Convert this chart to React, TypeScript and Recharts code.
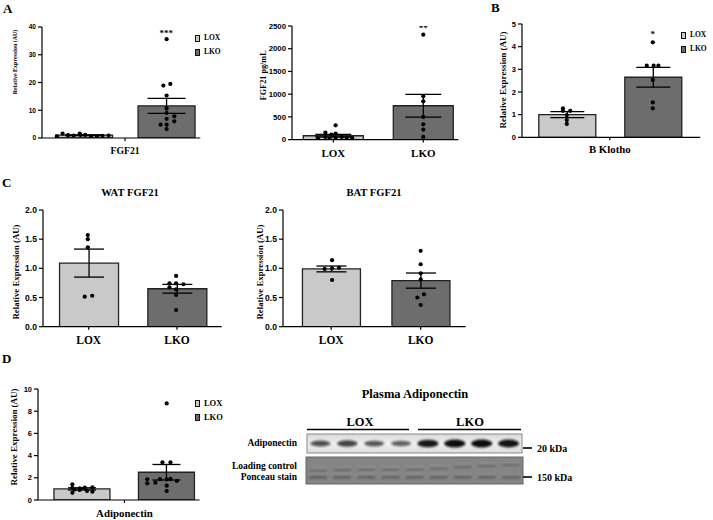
import React from 'react';
import { ComposedChart, Bar, Cell, ErrorBar, Scatter, XAxis, YAxis } from 'recharts';

const SERIF = '"Liberation Serif", "Times New Roman", serif';
const SANS = '"Liberation Sans", Arial, sans-serif';
const LOX_FILL = '#c9c9c9';
const LKO_FILL = '#6d6d6d';

// ---------- DATA ----------
const groups = ['LOX', 'LKO'];

// A: liver FGF21 mRNA
const liverMeans = [1.0, 11.6];
const liverSem = [0.12, 2.7];
const liverLox: [number, number][] = [[-0.325, 0.6], [-0.257, 1.6], [-0.191, 1.0], [-0.123, 0.9], [-0.05, 1.55], [-0.04, 1.1], [0.018, 1.1], [0.087, 0.7], [0.16, 0.7], [0.228, 0.8], [0.3, 0.9]];
const liverLko: [number, number][] = [[0.004, 35.6], [-0.036, 18.9], [0.049, 19.5], [0.004, 15.3], [0.004, 10.7], [0.004, 9.0], [0.097, 7.8], [0.004, 6.9], [-0.069, 4.8], [0.004, 4.8], [0.097, 6.0], [0.004, 3.2]];

// A: serum FGF21 pg/mL
const serumMeans = [85, 745];
const serumSem = [28, 250];
const serumLox: [number, number][] = [[-0.17, 22], [-0.088, 154], [-0.088, 59], [-0.02, 110], [0.026, 315], [0.026, 132], [0.026, 37], [0.094, 59], [0.15, 37], [0.21, 37], [-0.04, 22]];
const serumLko: [number, number][] = [[0, 2310], [0, 953], [0, 843], [0, 498], [0, 337], [0, 220], [0, 59]];

// B: B Klotho
const klothoMeans = [1.0, 2.65];
const klothoSem = [0.13, 0.44];
const klothoLox: [number, number][] = [[-0.045, 1.28], [0.04, 1.17], [-0.045, 1.17], [0.0, 0.98], [0.0, 0.76], [0.0, 0.59]];
const klothoLko: [number, number][] = [[0.0, 4.19], [-0.07, 3.16], [0.01, 3.16], [0.065, 3.16], [0.0, 2.53], [0.0, 1.54], [0.0, 1.28]];

// C: WAT FGF21
const watMeans = [1.09, 0.65];
const watSem = [0.24, 0.075];
const watLox: [number, number][] = [[-0.01, 1.57], [-0.01, 1.5], [-0.01, 1.36], [-0.045, 0.514], [0.04, 0.53]];
const watLko: [number, number][] = [[-0.01, 0.87], [-0.085, 0.744], [-0.01, 0.744], [0.073, 0.727], [-0.085, 0.675], [-0.01, 0.64], [-0.01, 0.543], [-0.01, 0.286]];

// C: BAT FGF21
const batMeans = [0.99, 0.79];
const batSem = [0.05, 0.13];
const batLox: [number, number][] = [[0.01, 1.14], [-0.073, 0.99], [0.01, 1.0], [0.087, 1.01], [0.01, 0.8]];
const batLko: [number, number][] = [[0.0, 1.3], [0.0, 1.07], [0.0, 0.915], [0.0, 0.81], [0.037, 0.555], [-0.037, 0.5], [0.0, 0.372]];

// D: Adiponectin
const adipoMeans = [1.0, 2.5];
const adipoSem = [0.1, 0.7];
const adipoLox: [number, number][] = [[-0.116, 1.41], [-0.116, 1.1], [-0.03, 1.05], [0.03, 1.11], [0.121, 1.14], [0.121, 0.75], [-0.09, 0.95], [0.057, 0.81], [-0.03, 0.9], [-0.116, 0.65]];
const adipoLko: [number, number][] = [[0.0, 8.7], [-0.05, 3.39], [0.045, 3.39], [-0.23, 1.86], [-0.08, 1.88], [0.0, 1.86], [0.045, 1.9], [0.12, 1.71], [-0.23, 1.5], [-0.134, 1.56], [0.0, 1.29], [0.0, 0.81]];

// Western blot band intensities
const adipoBandIntensity = [0.55, 0.62, 0.5, 0.42, 0.92, 1.0, 1.0, 0.96];
const ponceauUpperOffset = [12, 11.5, 11, 11, 11, 10, 8.5, 7.5, 6.5];
const ponceauIntensity = [0.8, 0.8, 0.75, 0.75, 0.8, 0.8, 0.75, 0.75, 0.7];

// ---------- HELPERS ----------
const fills = [LOX_FILL, LKO_FILL];
const makeBars = (means: number[], sems: number[]) =>
  means.map((m, i) => ({ x: i + 1, mean: m, err: sems[i], name: groups[i], fill: fills[i] }));
const makePoints = (lists: [number, number][][]) =>
  lists.flatMap((l, i) => l.map(([dx, y]) => ({ px: i + 1 + dx, y })));

const Dot = (props: any) => {
  if (props.cx == null || props.cy == null) return null;
  return <circle cx={props.cx} cy={props.cy} r={2.1} fill="#000" />;
};

const makeSig = (fs: number) => (props: any) => {
  if (props.cx == null || props.cy == null) return null;
  return (
    <text x={props.cx} y={props.cy + fs * 0.45} textAnchor="middle" fontFamily={SERIF} fontWeight={700} fontSize={fs} fill="#000">
      {props.payload.label}
    </text>
  );
};

const YTitle = (props: any) => (
  <text
    x={props.tx}
    y={props.ty}
    transform={`rotate(-90 ${props.tx} ${props.ty})`}
    textAnchor="middle"
    dominantBaseline="central"
    fontFamily={SERIF}
    fontWeight={700}
    fontSize={props.fs}
    fill="#000"
  >
    {props.value}
  </text>
);

type PanelProps = {
  x0: number; x1: number; yTop: number; yBot: number;
  c1: number; c2: number;
  yDomain: [number, number]; yTicks: number[]; yFont: number; yFmt?: (v: number) => string;
  xTicks: number[]; xLabels: string[]; xFont: number; xBaseline: number;
  bars: any[]; points: any[]; sig?: any[]; sigFont?: number;
  barSize: number; capWidth: number;
  yTitle: string; yTitleX: number; yTitleCY: number; yTitleFont: number;
};

function Panel(p: PanelProps) {
  const YW = 46, MT = 12, MR = 12, XH = 34;
  const left = p.x0 - YW;
  const top = p.yTop - MT;
  const width = p.x1 - p.x0 + YW + MR;
  const height = p.yBot - p.yTop + MT + XH;
  const unit = p.c2 - p.c1;
  const xDomain: [number, number] = [1 - (p.c1 - p.x0) / unit, 2 + (p.x1 - p.c2) / unit];
  const xTickMargin = p.xBaseline - p.yBot - 3 - 0.71 * p.xFont;
  return (
    <div style={{ position: 'absolute', left, top, width, height }}>
      <ComposedChart width={width} height={height} data={p.bars} margin={{ top: MT, right: MR, bottom: 0, left: 0 }}>
        <XAxis
          type="number"
          dataKey="x"
          domain={xDomain}
          allowDataOverflow
          ticks={p.xTicks}
          interval={0}
          tickFormatter={(v: number) => p.xLabels[p.xTicks.indexOf(v)] ?? ''}
          height={XH}
          tickSize={3}
          tickMargin={xTickMargin}
          axisLine={{ stroke: '#000', strokeWidth: 1.2 }}
          tickLine={{ stroke: '#000', strokeWidth: 1.2 }}
          tick={{ fill: '#000', fontFamily: SERIF, fontWeight: 700, fontSize: p.xFont }}
        />
        <XAxis xAxisId="pts" type="number" dataKey="px" domain={xDomain} allowDataOverflow hide />
        <YAxis
          type="number"
          domain={p.yDomain}
          allowDataOverflow
          ticks={p.yTicks}
          interval={0}
          width={YW}
          tickSize={4}
          tickMargin={2}
          tickFormatter={p.yFmt}
          axisLine={{ stroke: '#000', strokeWidth: 1.2 }}
          tickLine={{ stroke: '#000', strokeWidth: 1.2 }}
          tick={{ fill: '#000', fontFamily: SANS, fontWeight: 700, fontSize: p.yFont }}
          label={<YTitle tx={p.yTitleX - left} ty={p.yTitleCY - top} fs={p.yTitleFont} value={p.yTitle} />}
        />
        <Bar dataKey="mean" barSize={p.barSize} stroke="#222" strokeWidth={1.3} isAnimationActive={false}>
          {p.bars.map((b, i) => (
            <Cell key={i} fill={b.fill} />
          ))}
          <ErrorBar dataKey="err" width={p.capWidth} stroke="#000" strokeWidth={1.3} direction="y" />
        </Bar>
        <Scatter xAxisId="pts" data={p.points} dataKey="y" isAnimationActive={false} shape={Dot} />
        {p.sig ? <Scatter xAxisId="pts" data={p.sig} dataKey="y" isAnimationActive={false} shape={makeSig(p.sigFont ?? 9)} /> : null}
      </ComposedChart>
    </div>
  );
}

function LegendBox({ x, y, size, fs }: { x: number; y: number; size: number; fs: number }) {
  return (
    <div style={{ position: 'absolute', left: x, top: y }}>
      {groups.map((g, i) => (
        <div key={g} style={{ display: 'flex', alignItems: 'center', height: size + 7 }}>
          <div style={{ width: size * 0.7, height: size, background: fills[i], border: '1.2px solid #111', boxSizing: 'border-box' }} />
          <span style={{ marginLeft: 4, fontFamily: SERIF, fontWeight: 700, fontSize: fs, color: '#000', lineHeight: 1 }}>{g}</span>
        </div>
      ))}
    </div>
  );
}

function Blot() {
  const ax0 = 307, ax1 = 522, ay0 = 434, ay1 = 453;
  const px0 = 306, px1 = 523, py0 = 457, py1 = 484;
  const aLane = (ax1 - ax0) / adipoBandIntensity.length;
  const pLane = (px1 - px0) / ponceauIntensity.length;
  const t = { fontFamily: SERIF, fontWeight: 700, fill: '#000' } as const;
  return (
    <svg width={713} height={520} style={{ position: 'absolute', left: 0, top: 0 }}>
      <defs>
        <filter id="blur1" x="-50%" y="-100%" width="200%" height="300%">
          <feGaussianBlur stdDeviation="1.1" />
        </filter>
        <filter id="blur2" x="-50%" y="-100%" width="200%" height="300%">
          <feGaussianBlur stdDeviation="0.8" />
        </filter>
        <linearGradient id="adBg" x1="0" y1="0" x2="0" y2="1">
          <stop offset="0" stopColor="#d9d9d9" />
          <stop offset="0.5" stopColor="#f0f0f0" />
          <stop offset="1" stopColor="#dcdcdc" />
        </linearGradient>
      </defs>
      <text x={415} y={398} textAnchor="middle" fontSize={12.5} {...t}>Plasma Adiponectin</text>
      <text x={360} y={426} textAnchor="middle" fontSize={12.5} {...t}>LOX</text>
      <text x={470} y={426} textAnchor="middle" fontSize={12.5} {...t}>LKO</text>
      <line x1={307} x2={409} y1={429.5} y2={429.5} stroke="#000" strokeWidth={1.4} />
      <line x1={418} x2={521} y1={429.5} y2={429.5} stroke="#000" strokeWidth={1.4} />

      <rect x={ax0} y={ay0} width={ax1 - ax0} height={ay1 - ay0} fill="url(#adBg)" stroke="#8a8a8a" strokeWidth={1} />
      {adipoBandIntensity.map((v, i) => {
        const cx = ax0 + aLane * (i + 0.5);
        const h = 3.5 + v * 4.5;
        return (
          <ellipse key={i} cx={cx} cy={443.5} rx={9.5 + v * 1.2} ry={h / 2} fill="#111" opacity={0.35 + v * 0.65} filter="url(#blur1)" />
        );
      })}

      <rect x={px0} y={py0} width={px1 - px0} height={py1 - py0} fill="#858585" stroke="#666" strokeWidth={1} />
      {ponceauIntensity.map((v, i) => {
        const cx = px0 + pLane * (i + 0.5);
        const uy = py0 + ponceauUpperOffset[i];
        return (
          <g key={i} filter="url(#blur2)">
            <rect x={cx - 9} y={uy - 1.2} width={18} height={1.1} fill="#a8a8a8" opacity={0.8} />
            <rect x={cx - 9} y={uy} width={18} height={2.2} fill="#575757" opacity={v} />
            <rect x={cx - 9} y={py0 + 17} width={18} height={1} fill="#a4a4a4" opacity={0.7} />
            <rect x={cx - 9} y={py0 + 18.2} width={18} height={3.6} fill="#5c5c5c" opacity={v} />
          </g>
        );
      })}

      <text x={297} y={446} textAnchor="end" fontSize={9.5} {...t}>Adiponectin</text>
      <text x={297} y={469} textAnchor="end" fontSize={9.5} {...t}>Loading control</text>
      <text x={297} y={480} textAnchor="end" fontSize={9.5} {...t}>Ponceau stain</text>
      <line x1={523} x2={532} y1={448} y2={448} stroke="#000" strokeWidth={1.6} />
      <line x1={523} x2={532} y1={477} y2={477} stroke="#000" strokeWidth={1.6} />
      <text x={537} y={452} fontSize={10} {...t}>20 kDa</text>
      <text x={537} y={481} fontSize={10} {...t}>150 kDa</text>
    </svg>
  );
}

const intFmt = (v: number) => String(v);
const oneDec = (v: number) => v.toFixed(1);

export default function App() {
  const label = { fontFamily: SERIF, fontWeight: 700, color: '#000', position: 'absolute' as const, lineHeight: 1 };
  return (
    <div style={{ position: 'absolute', left: 0, top: 0, width: 713, height: 520, background: '#fff', overflow: 'hidden' }}>
      <Blot />
      <div style={{ ...label, left: 3, top: 2, fontSize: 13 }}>A</div>
      <div style={{ ...label, left: 491, top: 1, fontSize: 13 }}>B</div>
      <div style={{ ...label, left: 2, top: 176, fontSize: 13 }}>C</div>
      <div style={{ ...label, left: 2, top: 352, fontSize: 13 }}>D</div>

      <Panel
        x0={41.7} x1={200} yTop={27} yBot={138} c1={83.5} c2={166}
        yDomain={[0, 40]} yTicks={[0, 10, 20, 30, 40]} yFont={6.5} yFmt={intFmt}
        xTicks={[1.5]} xLabels={['FGF21']} xFont={9.7} xBaseline={154}
        bars={makeBars(liverMeans, liverSem)} points={makePoints([liverLox, liverLko])}
        sig={[{ px: 2, y: 38.2, label: '***' }]} sigFont={9}
        barSize={57} capWidth={19}
        yTitle="Relative Expression (AU)" yTitleX={15} yTitleCY={62} yTitleFont={6}
      />
      <LegendBox x={195} y={31} size={7} fs={7.5} />

      <Panel
        x0={291.7} x1={458} yTop={25.7} yBot={139.3} c1={333} c2={423}
        yDomain={[0, 2500]} yTicks={[0, 500, 1000, 1500, 2000, 2500]} yFont={7.8} yFmt={intFmt}
        xTicks={[1, 2]} xLabels={groups} xFont={11} xBaseline={157}
        bars={makeBars(serumMeans, serumSem)} points={makePoints([serumLox, serumLko])}
        sig={[{ px: 2, y: 2470, label: '**' }]} sigFont={9}
        barSize={60} capWidth={18}
        yTitle="FGF21 pg/mL" yTitleX={263} yTitleCY={75} yTitleFont={8.2}
      />

      <Panel
        x0={521.7} x1={700} yTop={24} yBot={137.3} c1={566.5} c2={652.5}
        yDomain={[0, 5]} yTicks={[0, 1, 2, 3, 4, 5]} yFont={7.5} yFmt={intFmt}
        xTicks={[1.5]} xLabels={['B Klotho']} xFont={10.8} xBaseline={153}
        bars={makeBars(klothoMeans, klothoSem)} points={makePoints([klothoLox, klothoLko])}
        sig={[{ px: 2, y: 4.59, label: '*' }]} sigFont={9}
        barSize={57} capWidth={17}
        yTitle="Relative Expression (AU)" yTitleX={503} yTitleCY={80} yTitleFont={9}
      />
      <LegendBox x={681} y={28} size={7} fs={7.5} />

      <div style={{ ...label, left: 30, width: 200, top: 188, fontSize: 10.6, textAlign: 'center' }}>WAT FGF21</div>
      <Panel
        x0={43.3} x1={222} yTop={210} yBot={326.7} c1={89} c2={177.3}
        yDomain={[0, 2]} yTicks={[0, 0.5, 1, 1.5, 2]} yFont={8.6} yFmt={oneDec}
        xTicks={[1, 2]} xLabels={groups} xFont={11.5} xBaseline={344}
        bars={makeBars(watMeans, watSem)} points={makePoints([watLox, watLko])}
        barSize={59} capWidth={15}
        yTitle="Relative Expression (AU)" yTitleX={16} yTitleCY={272} yTitleFont={8.8}
      />

      <div style={{ ...label, left: 274, width: 200, top: 188, fontSize: 10.6, textAlign: 'center' }}>BAT FGF21</div>
      <Panel
        x0={283.3} x1={466} yTop={210} yBot={326.7} c1={331.5} c2={421}
        yDomain={[0, 2]} yTicks={[0, 0.5, 1, 1.5, 2]} yFont={8.6} yFmt={oneDec}
        xTicks={[1, 2]} xLabels={groups} xFont={11.5} xBaseline={344}
        bars={makeBars(batMeans, batSem)} points={makePoints([batLox, batLko])}
        barSize={58} capWidth={15}
        yTitle="Relative Expression (AU)" yTitleX={260} yTitleCY={272} yTitleFont={8.8}
      />

      <Panel
        x0={38.3} x1={200} yTop={389} yBot={500} c1={82.5} c2={167}
        yDomain={[0, 10]} yTicks={[0, 2, 4, 6, 8, 10]} yFont={7.5} yFmt={intFmt}
        xTicks={[1.5]} xLabels={['Adiponectin']} xFont={10.9} xBaseline={517}
        bars={makeBars(adipoMeans, adipoSem)} points={makePoints([adipoLox, adipoLko])}
        barSize={56} capWidth={14}
        yTitle="Relative Expression (AU)" yTitleX={14} yTitleCY={437} yTitleFont={9}
      />
      <LegendBox x={195} y={396} size={7} fs={8.5} />
    </div>
  );
}
